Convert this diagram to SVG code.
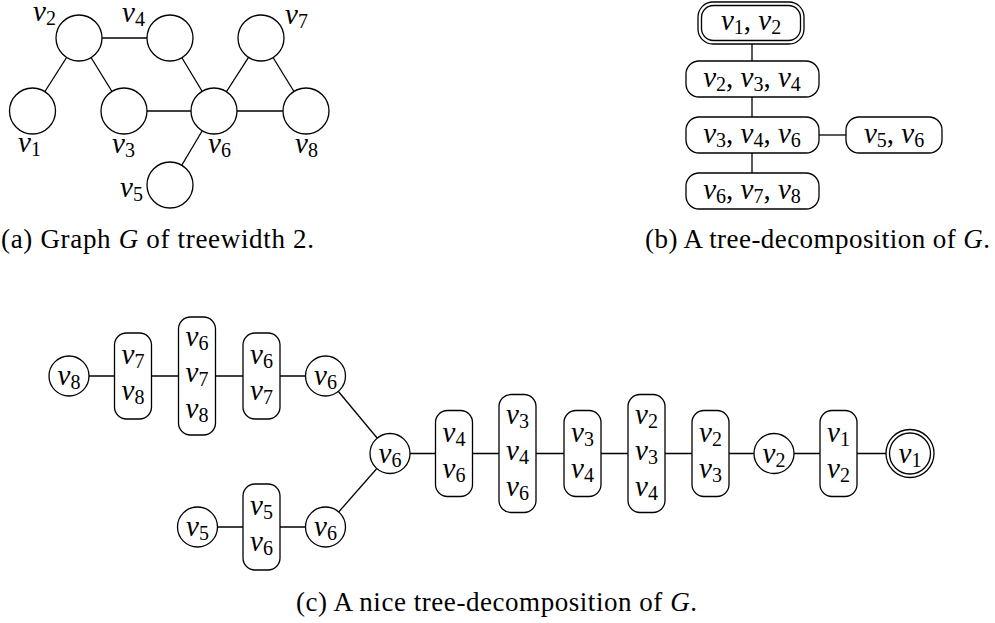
<svg xmlns="http://www.w3.org/2000/svg" width="995" height="623" viewBox="0 0 995 623">
<style>
.m{font-family:"Liberation Serif",serif;font-style:italic;font-size:29px;text-anchor:middle;fill:#000}
.la{font-family:"Liberation Serif",serif;font-style:italic;font-size:29px;fill:#000}
.s{font-style:normal;font-size:20px}
.c{font-style:normal}
.cap{font-family:"Liberation Serif",serif;font-size:27px;fill:#000}
.n{fill:#fff;stroke:#000;stroke-width:1.3}
.e{stroke:#000;stroke-width:1.3;fill:none}
</style>
<rect width="995" height="623" fill="#fff"/>

<!-- Panel (a) -->
<g id="a-edges">
<line class="e" x1="79" y1="38" x2="170" y2="38"/>
<line class="e" x1="79" y1="38" x2="32.5" y2="111"/>
<line class="e" x1="79" y1="38" x2="124" y2="111"/>
<line class="e" x1="170" y1="38" x2="214" y2="111"/>
<line class="e" x1="124" y1="111" x2="214" y2="111"/>
<line class="e" x1="214" y1="111" x2="261" y2="38"/>
<line class="e" x1="214" y1="111" x2="306" y2="111"/>
<line class="e" x1="261" y1="38" x2="306" y2="111"/>
<line class="e" x1="214" y1="111" x2="170" y2="185"/>
</g>
<g id="a-v1"><circle class="n" cx="32.5" cy="111" r="23"/><text class="la" x="18" y="152">v<tspan class="s" dy="4">1</tspan></text></g>
<g id="a-v2"><circle class="n" cx="79" cy="38" r="23"/><text class="la" x="33" y="21">v<tspan class="s" dy="4">2</tspan></text></g>
<g id="a-v3"><circle class="n" cx="124" cy="111" r="23"/><text class="la" x="112" y="153">v<tspan class="s" dy="4">3</tspan></text></g>
<g id="a-v4"><circle class="n" cx="170" cy="38" r="23"/><text class="la" x="122" y="22">v<tspan class="s" dy="4">4</tspan></text></g>
<g id="a-v5"><circle class="n" cx="170" cy="185" r="23"/><text class="la" x="120" y="197">v<tspan class="s" dy="4">5</tspan></text></g>
<g id="a-v6"><circle class="n" cx="214" cy="111" r="23"/><text class="la" x="208" y="153">v<tspan class="s" dy="4">6</tspan></text></g>
<g id="a-v7"><circle class="n" cx="261" cy="38" r="23"/><text class="la" x="285" y="24">v<tspan class="s" dy="4">7</tspan></text></g>
<g id="a-v8"><circle class="n" cx="306" cy="111" r="23"/><text class="la" x="295" y="153">v<tspan class="s" dy="4">8</tspan></text></g>
<text class="cap" x="1" y="248" textLength="313" lengthAdjust="spacing">(a) Graph <tspan font-style="italic">G</tspan> of treewidth 2.</text>

<!-- Panel (b) -->
<g id="b-edges">
<line class="e" x1="752" y1="44" x2="752" y2="61"/>
<line class="e" x1="752" y1="97" x2="752" y2="117"/>
<line class="e" x1="752" y1="153" x2="752" y2="173"/>
<line class="e" x1="819" y1="135" x2="846" y2="135"/>
</g>
<g id="b-root"><rect class="n" x="698" y="2" width="106" height="42" rx="15"/><rect class="n" x="701.5" y="5.5" width="99" height="35" rx="12"/>
<text class="m" x="751" y="30">v<tspan class="s" dy="4">1</tspan><tspan class="c" dy="-4">, </tspan>v<tspan class="s" dy="4">2</tspan></text></g>
<g id="b-234"><rect class="n" x="686" y="61" width="133" height="36" rx="13"/>
<text class="m" x="752" y="87">v<tspan class="s" dy="4">2</tspan><tspan class="c" dy="-4">, </tspan>v<tspan class="s" dy="4">3</tspan><tspan class="c" dy="-4">, </tspan>v<tspan class="s" dy="4">4</tspan></text></g>
<g id="b-346"><rect class="n" x="686" y="117" width="133" height="36" rx="13"/>
<text class="m" x="752" y="143">v<tspan class="s" dy="4">3</tspan><tspan class="c" dy="-4">, </tspan>v<tspan class="s" dy="4">4</tspan><tspan class="c" dy="-4">, </tspan>v<tspan class="s" dy="4">6</tspan></text></g>
<g id="b-56"><rect class="n" x="846" y="117" width="96" height="36" rx="13"/>
<text class="m" x="894" y="143">v<tspan class="s" dy="4">5</tspan><tspan class="c" dy="-4">, </tspan>v<tspan class="s" dy="4">6</tspan></text></g>
<g id="b-678"><rect class="n" x="686" y="173" width="133" height="36" rx="13"/>
<text class="m" x="752" y="199">v<tspan class="s" dy="4">6</tspan><tspan class="c" dy="-4">, </tspan>v<tspan class="s" dy="4">7</tspan><tspan class="c" dy="-4">, </tspan>v<tspan class="s" dy="4">8</tspan></text></g>
<text class="cap" x="645" y="248" textLength="345" lengthAdjust="spacing">(b) A tree-decomposition of <tspan font-style="italic">G</tspan>.</text>

<!-- Panel (c) -->
<g id="c-edges">
<line class="e" x1="69" y1="376" x2="133" y2="376"/>
<line class="e" x1="133" y1="376" x2="197" y2="376"/>
<line class="e" x1="197" y1="376" x2="261.5" y2="376"/>
<line class="e" x1="261.5" y1="376" x2="325.5" y2="376"/>
<line class="e" x1="325.5" y1="376" x2="390" y2="453.5"/>
<line class="e" x1="197.5" y1="527" x2="261.5" y2="527"/>
<line class="e" x1="261.5" y1="527" x2="325.5" y2="527"/>
<line class="e" x1="325.5" y1="527" x2="390" y2="453.5"/>
<line class="e" x1="390" y1="453.5" x2="454" y2="453.5"/>
<line class="e" x1="454" y1="453.5" x2="517.5" y2="453.5"/>
<line class="e" x1="517.5" y1="453.5" x2="582.5" y2="453.5"/>
<line class="e" x1="582.5" y1="453.5" x2="646.5" y2="453.5"/>
<line class="e" x1="646.5" y1="453.5" x2="710.5" y2="453.5"/>
<line class="e" x1="710.5" y1="453.5" x2="774" y2="453.5"/>
<line class="e" x1="774" y1="453.5" x2="838.5" y2="453.5"/>
<line class="e" x1="838.5" y1="453.5" x2="910" y2="453.5"/>
</g>
<g id="c-v8"><circle class="n" cx="69" cy="376" r="20"/><text class="m" x="69" y="385">v<tspan class="s" dy="4">8</tspan></text></g>
<g id="c-78"><rect class="n" x="114.5" y="333" width="37" height="86" rx="12"/>
<text class="m" x="133" y="364">v<tspan class="s" dy="4">7</tspan></text><text class="m" x="133" y="400">v<tspan class="s" dy="4">8</tspan></text></g>
<g id="c-678"><rect class="n" x="178.5" y="317" width="37" height="118" rx="12"/>
<text class="m" x="197" y="346">v<tspan class="s" dy="4">6</tspan></text><text class="m" x="197" y="382">v<tspan class="s" dy="4">7</tspan></text><text class="m" x="197" y="418">v<tspan class="s" dy="4">8</tspan></text></g>
<g id="c-67"><rect class="n" x="243" y="333" width="37" height="86" rx="12"/>
<text class="m" x="261.5" y="364">v<tspan class="s" dy="4">6</tspan></text><text class="m" x="261.5" y="400">v<tspan class="s" dy="4">7</tspan></text></g>
<g id="c-v6a"><circle class="n" cx="325.5" cy="376" r="20"/><text class="m" x="325.5" y="385">v<tspan class="s" dy="4">6</tspan></text></g>
<g id="c-v5"><circle class="n" cx="197.5" cy="527" r="20"/><text class="m" x="197.5" y="536">v<tspan class="s" dy="4">5</tspan></text></g>
<g id="c-56"><rect class="n" x="243" y="484" width="37" height="86" rx="12"/>
<text class="m" x="261.5" y="515">v<tspan class="s" dy="4">5</tspan></text><text class="m" x="261.5" y="551">v<tspan class="s" dy="4">6</tspan></text></g>
<g id="c-v6b"><circle class="n" cx="325.5" cy="527" r="20"/><text class="m" x="325.5" y="536">v<tspan class="s" dy="4">6</tspan></text></g>
<g id="c-v6c"><circle class="n" cx="390" cy="453.5" r="20"/><text class="m" x="390" y="462.5">v<tspan class="s" dy="4">6</tspan></text></g>
<g id="c-46"><rect class="n" x="435.5" y="410.5" width="37" height="86" rx="12"/>
<text class="m" x="454" y="442">v<tspan class="s" dy="4">4</tspan></text><text class="m" x="454" y="478">v<tspan class="s" dy="4">6</tspan></text></g>
<g id="c-346"><rect class="n" x="499" y="394.5" width="37" height="118" rx="12"/>
<text class="m" x="517.5" y="424">v<tspan class="s" dy="4">3</tspan></text><text class="m" x="517.5" y="460">v<tspan class="s" dy="4">4</tspan></text><text class="m" x="517.5" y="496">v<tspan class="s" dy="4">6</tspan></text></g>
<g id="c-34"><rect class="n" x="564" y="410.5" width="37" height="86" rx="12"/>
<text class="m" x="582.5" y="442">v<tspan class="s" dy="4">3</tspan></text><text class="m" x="582.5" y="478">v<tspan class="s" dy="4">4</tspan></text></g>
<g id="c-234"><rect class="n" x="628" y="394.5" width="37" height="118" rx="12"/>
<text class="m" x="646.5" y="424">v<tspan class="s" dy="4">2</tspan></text><text class="m" x="646.5" y="460">v<tspan class="s" dy="4">3</tspan></text><text class="m" x="646.5" y="496">v<tspan class="s" dy="4">4</tspan></text></g>
<g id="c-23"><rect class="n" x="692" y="410.5" width="37" height="86" rx="12"/>
<text class="m" x="710.5" y="442">v<tspan class="s" dy="4">2</tspan></text><text class="m" x="710.5" y="478">v<tspan class="s" dy="4">3</tspan></text></g>
<g id="c-v2"><circle class="n" cx="774" cy="453.5" r="20"/><text class="m" x="774" y="462.5">v<tspan class="s" dy="4">2</tspan></text></g>
<g id="c-12"><rect class="n" x="820" y="410.5" width="37" height="86" rx="12"/>
<text class="m" x="838.5" y="442">v<tspan class="s" dy="4">1</tspan></text><text class="m" x="838.5" y="478">v<tspan class="s" dy="4">2</tspan></text></g>
<g id="c-v1"><circle class="n" cx="910" cy="453.5" r="24"/><circle class="n" cx="910" cy="453.5" r="20.5"/><text class="m" x="910" y="462.5">v<tspan class="s" dy="4">1</tspan></text></g>
<text class="cap" x="296" y="611" textLength="401" lengthAdjust="spacing">(c) A nice tree-decomposition of <tspan font-style="italic">G</tspan>.</text>
</svg>
